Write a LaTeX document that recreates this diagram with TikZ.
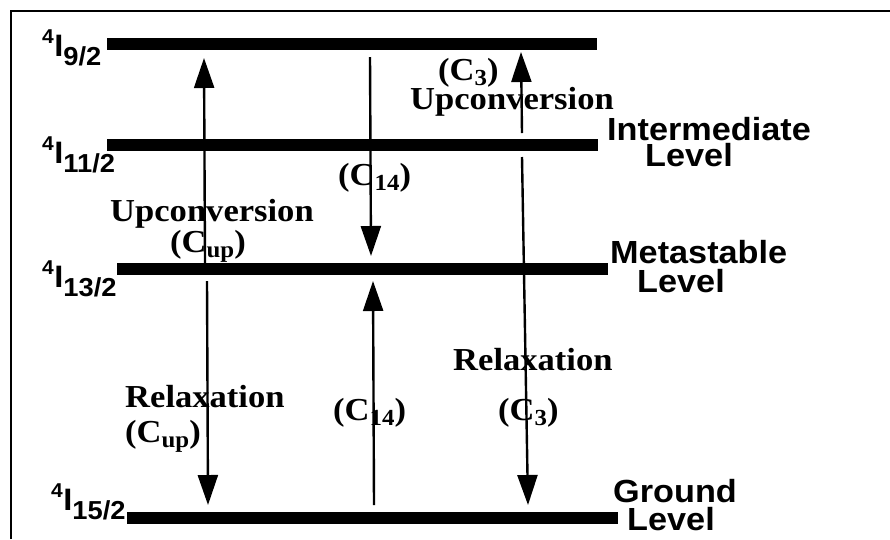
\documentclass[tikz,border=0pt]{standalone}
\usepackage{fontspec}
\setmainfont{Liberation Serif}
\newfontfamily\hvfont{Liberation Sans}
\usetikzlibrary{arrows.meta}
\newcommand{\ssub}[1]{\raisebox{-5pt}{\fontsize{23}{23}\selectfont #1}}
\newcommand{\lvlabel}[1]{\raisebox{13pt}{\fontsize{20}{20}\selectfont 4}\kern0.5pt{\fontsize{31}{31}\selectfont I}\raisebox{-9pt}{\fontsize{26}{26}\selectfont #1}}
\begin{document}
\begin{tikzpicture}[x=1pt,y=-1pt,
  serif/.style={font=\fontsize{32}{32}\selectfont\bfseries, inner sep=0pt, anchor=base west, xscale=1.08},
  sans/.style={font=\hvfont\fontsize{32}{32}\selectfont\bfseries, inner sep=0pt, anchor=base west, xscale=1.07},
  lvl/.style={font=\hvfont\bfseries, inner sep=0pt, anchor=base west, xscale=1.05},
  bar/.style={line width=12pt},
  arr/.style={line width=2.4pt, -{Triangle[width=20pt,length=30pt]}},
  frame/.style={line width=2.5pt}]
\useasboundingbox (0,0) rectangle (890,539);
% frame
\coordinate (fbl) at (11,539);
\coordinate (ftl) at (11,11);
\coordinate (ftr) at (890,11);
\draw[frame] (fbl) -- (ftl) -- (ftr);
% level bars
\coordinate (l9a) at (107,44);  \coordinate (l9b) at (597,44);
\coordinate (l11a) at (107,145); \coordinate (l11b) at (598,145);
\coordinate (l13a) at (117,269); \coordinate (l13b) at (608,269);
\coordinate (l15a) at (127,518); \coordinate (l15b) at (618,518);
\draw[bar] (l9a) -- (l9b);
\draw[bar] (l11a) -- (l11b);
\draw[bar] (l13a) -- (l13b);
\draw[bar] (l15a) -- (l15b);
% level labels
\node[lvl] (t9)  at (42,56)  {\lvlabel{9/2}};
\node[lvl] (t11) at (42,163) {\lvlabel{11/2}};
\node[lvl] (t13) at (42,287) {\lvlabel{13/2}};
\node[lvl] (t15) at (51,510) {\lvlabel{15/2}};
% level names
\node[sans] (intA) at (607,140) {Intermediate};
\node[sans] (intB) at (645,166) {Level};
\node[sans] (metA) at (610,263) {Metastable};
\node[sans] (metB) at (637,292) {Level};
\node[sans] (grdA) at (613,502) {Ground};
\node[sans] (grdB) at (627,530) {Level};
% process labels
\node[serif] (c3u)  at (438,80)  {(C\ssub{3})};
\node[serif] (upr)  at (410,109) {Upconversion};
\node[serif] (upl)  at (110,221) {Upconversion};
\node[serif] (cupu) at (170,252) {(C\ssub{up})};
\node[serif] (c14u) at (338,185) {(C\ssub{14})};
\node[serif] (relr) at (453,370) {Relaxation};
\node[serif] (rell) at (125,407) {Relaxation};
\node[serif] (cupl) at (125,442) {(C\ssub{up})};
\node[serif] (c14l) at (333,420) {(C\ssub{14})};
\node[serif] (c3l)  at (498,420) {(C\ssub{3})};
% transitions
\coordinate (a1s) at (205,263); \coordinate (a1e) at (204,58);
\coordinate (a2s) at (207,281); \coordinate (a2e) at (208,505);
\coordinate (a3s) at (370,57);  \coordinate (a3e) at (371,256);
\coordinate (a4s) at (374,505); \coordinate (a4e) at (373,281);
\coordinate (a5s) at (522,133); \coordinate (a5e) at (521,52);
\coordinate (a6s) at (522,157); \coordinate (a6e) at (528,505);
\draw[arr] (a1s) -- (a1e);
\draw[arr] (a2s) -- (a2e);
\draw[arr] (a3s) -- (a3e);
\draw[arr] (a4s) -- (a4e);
\draw[arr] (a5s) -- (a5e);
\draw[arr] (a6s) -- (a6e);
\end{tikzpicture}
\end{document}
